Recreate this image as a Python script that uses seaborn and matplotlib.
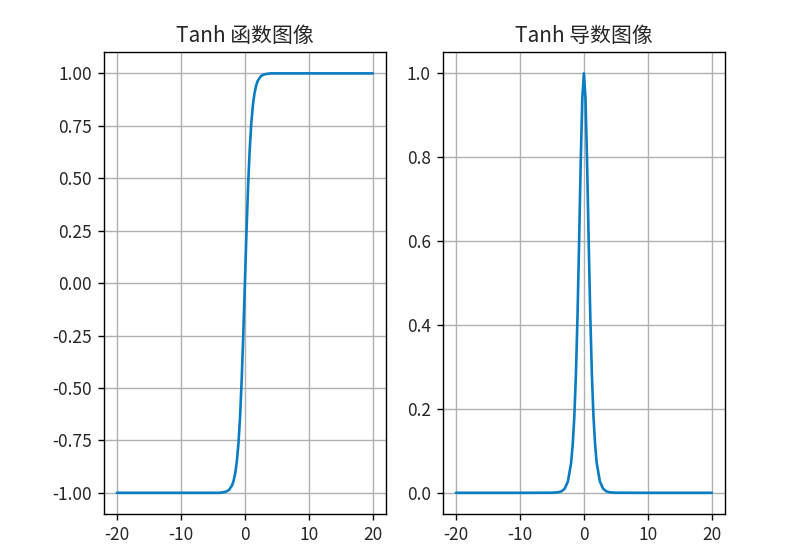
import pandas as pd
import matplotlib
matplotlib.use('Agg')
import matplotlib.pyplot as plt
import seaborn as sns

sns.set_style("ticks")
plt.rcParams['font.family'] = ['Noto Sans CJK SC', 'DejaVu Sans']
plt.rcParams['axes.unicode_minus'] = False

# ---- 그림에서 읽은 값 ----
x_vals = [-20, -10, -5, -4, -3.5, -3, -2.5, -2, -1.75, -1.5, -1.25, -1, -0.75, -0.5, -0.25,
          0, 0.25, 0.5, 0.75, 1, 1.25, 1.5, 1.75, 2, 2.5, 3, 3.5, 4, 5, 10, 20]
tanh_vals = [-1.00, -1.00, -1.00, -1.00, -0.998, -0.995, -0.987, -0.964, -0.941, -0.905, -0.848,
             -0.762, -0.635, -0.462, -0.245,
             0.0, 0.245, 0.462, 0.635, 0.762, 0.848, 0.905, 0.941, 0.964, 0.987, 0.995, 0.998,
             1.00, 1.00, 1.00, 1.00]
dtanh_vals = [0.0, 0.0, 0.0002, 0.0013, 0.0036, 0.0099, 0.027, 0.071, 0.115, 0.181, 0.281,
              0.420, 0.597, 0.787, 0.940,
              1.0, 0.940, 0.787, 0.597, 0.420, 0.281, 0.181, 0.115, 0.071, 0.027, 0.0099, 0.0036,
              0.0013, 0.0002, 0.0, 0.0]

df = pd.DataFrame({'x': x_vals, 'tanh': tanh_vals, 'dtanh': dtanh_vals})

line_color = '#0a7cc1'

fig, axes = plt.subplots(1, 2, figsize=(8.07, 5.46), dpi=100)
plt.subplots_adjust(left=0.129, right=0.898, top=0.904, bottom=0.059, wspace=0.204)

sns.lineplot(data=df, x='x', y='tanh', ax=axes[0], color=line_color, linewidth=1.9)
axes[0].set_title('Tanh 函数图像', fontsize=15, pad=7.5)
axes[0].set_yticks([-1.0, -0.75, -0.5, -0.25, 0.0, 0.25, 0.5, 0.75, 1.0])

sns.lineplot(data=df, x='x', y='dtanh', ax=axes[1], color=line_color, linewidth=1.9)
axes[1].set_title('Tanh 导数图像', fontsize=15, pad=7.5)

for ax in axes:
    ax.set_xlabel('')
    ax.set_ylabel('')
    ax.set_xticks([-20, -10, 0, 10, 20])
    ax.grid(True, color='#b0b0b0', linewidth=1.0)
    ax.tick_params(labelsize=12.5, direction='out', length=4.4, width=1.0, pad=4.4, color='black')
    for s in ax.spines.values():
        s.set_color('black')
        s.set_linewidth(1.0)

axes[0].yaxis.set_major_formatter(matplotlib.ticker.FormatStrFormatter('%.2f'))
axes[1].yaxis.set_major_formatter(matplotlib.ticker.FormatStrFormatter('%.1f'))

plt.savefig('out.png', dpi=100)
